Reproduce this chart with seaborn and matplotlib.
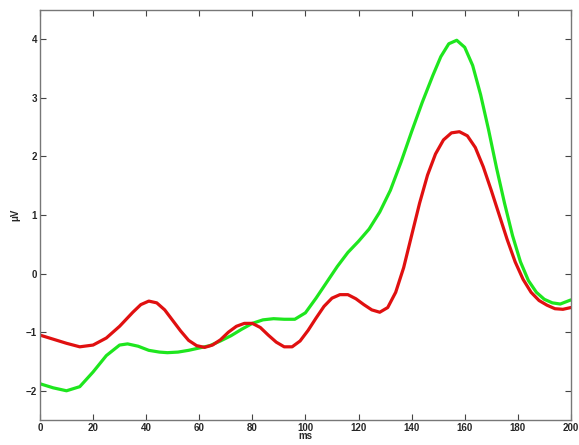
import matplotlib
matplotlib.use("Agg")
import matplotlib.pyplot as plt
import seaborn as sns
import pandas as pd

# time points (ms) and amplitudes (uV)
red_ms = [0, 5, 10, 15, 20, 25, 30, 35, 38, 41, 44, 47, 50, 53, 56, 59, 62, 65,
          68, 71, 74, 77, 80, 83, 86, 89, 92, 95, 98, 101, 104, 107, 110, 113,
          116, 119, 122, 125, 128, 131, 134, 137, 140, 143, 146, 149, 152, 155,
          158, 161, 164, 167, 170, 173, 176, 179, 182, 185, 188, 191, 194, 197, 200]
red_uv = [-1.05, -1.12, -1.19, -1.25, -1.22, -1.1, -0.9, -0.66, -0.53, -0.47, -0.5,
          -0.62, -0.8, -0.98, -1.14, -1.23, -1.26, -1.22, -1.13, -1.0, -0.9, -0.85,
          -0.85, -0.92, -1.05, -1.17, -1.25, -1.25, -1.15, -0.97, -0.76, -0.56,
          -0.42, -0.36, -0.36, -0.43, -0.53, -0.62, -0.66, -0.58, -0.32, 0.1, 0.65,
          1.2, 1.68, 2.04, 2.28, 2.4, 2.42, 2.35, 2.15, 1.82, 1.42, 1.0, 0.58, 0.2,
          -0.1, -0.32, -0.46, -0.54, -0.6, -0.61, -0.58]

green_ms = [0, 5, 10, 15, 20, 25, 30, 33, 37, 41, 45, 48, 52, 56, 60, 64, 68, 72,
            76, 80, 84, 88, 92, 96, 100, 104, 108, 112, 116, 120, 124, 128, 132,
            136, 140, 144, 148, 151, 154, 157, 160, 163, 166, 169, 172, 175, 178,
            181, 184, 187, 190, 193, 196, 200]
green_uv = [-1.88, -1.95, -2.0, -1.93, -1.68, -1.4, -1.22, -1.2, -1.24, -1.31, -1.34,
            -1.35, -1.34, -1.31, -1.27, -1.23, -1.15, -1.06, -0.95, -0.85, -0.79,
            -0.77, -0.78, -0.78, -0.67, -0.42, -0.15, 0.12, 0.36, 0.55, 0.76, 1.05,
            1.42, 1.9, 2.42, 2.92, 3.38, 3.7, 3.92, 3.98, 3.86, 3.55, 3.05, 2.45, 1.8,
            1.2, 0.65, 0.2, -0.12, -0.32, -0.44, -0.5, -0.52, -0.45]

xticks = list(range(0, 201, 20))
yticks = [-2, -1, 0, 1, 2, 3, 4]

sns.set_style("ticks")
plt.rcParams["font.family"] = ["Liberation Sans", "DejaVu Sans"]

fig = plt.figure(figsize=(5.79, 4.45), dpi=100)
ax = fig.add_axes([0.069, 0.056, 0.917, 0.922])

red = pd.DataFrame({"ms": red_ms, "uV": red_uv})
green = pd.DataFrame({"ms": green_ms, "uV": green_uv})
sns.lineplot(data=green, x="ms", y="uV", color="#1ee61e", linewidth=2.3, ax=ax)
sns.lineplot(data=red, x="ms", y="uV", color="#e01010", linewidth=2.3, ax=ax)

ax.set_xlim(0, 200)
ax.set_ylim(-2.5, 4.5)
ax.set_xticks(xticks)
ax.set_yticks(yticks)
ax.tick_params(direction="in", length=4, width=0.8, top=True, right=True,
               labelsize=7, pad=2, color="#444444")
for lab in ax.get_xticklabels() + ax.get_yticklabels():
    lab.set_fontweight("bold")
for s in ax.spines.values():
    s.set_color("#777777")
    s.set_linewidth(1.0)
    s.set_visible(True)

ax.set_xlabel("ms", fontsize=7, fontweight="bold", labelpad=-1)
ax.set_ylabel("μV", fontsize=7, fontweight="bold", labelpad=4)

fig.savefig("out.png", dpi=100)
